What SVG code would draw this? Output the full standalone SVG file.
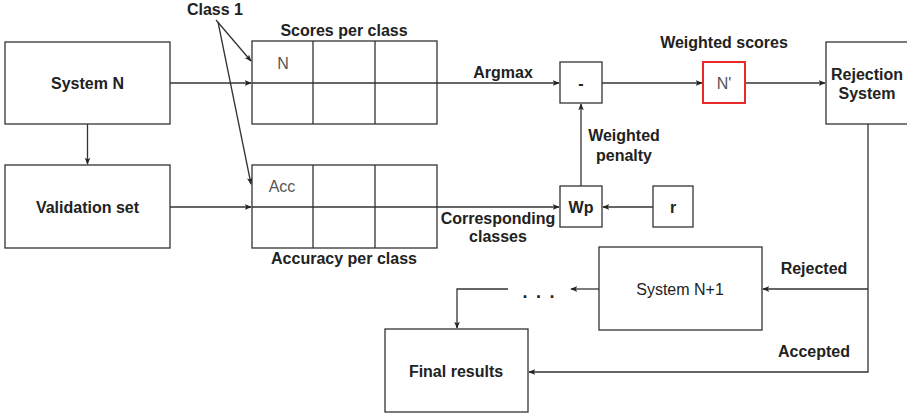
<svg xmlns="http://www.w3.org/2000/svg" width="907" height="415" viewBox="0 0 907 415">
<defs>
<marker id="ah" viewBox="0 0 10 10" refX="9" refY="5" markerWidth="7" markerHeight="7" orient="auto" markerUnits="userSpaceOnUse">
<path d="M0,1 L10,5 L0,9 L2.5,5 Z" fill="#222"/>
</marker>
<style>
.box{fill:#fff;stroke:#333;stroke-width:1.3}
.ln{fill:none;stroke:#333;stroke-width:1.3}
.t{font-family:"Liberation Sans",Arial,sans-serif;font-size:16px;font-weight:bold;fill:#222;text-anchor:middle}
.g{font-family:"Liberation Sans",Arial,sans-serif;font-size:16px;fill:#555;text-anchor:middle}
</style>
</defs>
<rect width="907" height="415" fill="#fff"/>
<g id="connectors">
<path class="ln" d="M87.5,124 V164" marker-end="url(#ah)"/>
<path class="ln" d="M170,83 H251" marker-end="url(#ah)"/>
<path class="ln" d="M437,83 H559" marker-end="url(#ah)"/>
<path class="ln" d="M170,207 H251" marker-end="url(#ah)"/>
<path class="ln" d="M437,207 H559" marker-end="url(#ah)"/>
<path class="ln" d="M653,207 H603" marker-end="url(#ah)"/>
<path class="ln" d="M581,186 V104" marker-end="url(#ah)"/>
<path class="ln" d="M602,83 H702" marker-end="url(#ah)"/>
<path class="ln" d="M745,83 H825" marker-end="url(#ah)"/>
<path class="ln" d="M216,20 L251,61" marker-end="url(#ah)"/>
<path class="ln" d="M218,22 L251,184" marker-end="url(#ah)"/>
<path class="ln" d="M868,124 V372 H529" marker-end="url(#ah)"/>
<path class="ln" d="M868,289 H763" marker-end="url(#ah)"/>
<path class="ln" d="M599,289 H571" marker-end="url(#ah)"/>
<path class="ln" d="M508,289 H457 V328" marker-end="url(#ah)"/>
</g>
<g id="system-n"><rect class="box" x="5" y="42" width="165" height="82"/><text class="t" x="87.5" y="89">System N</text></g>
<g id="validation-set"><rect class="box" x="5" y="165" width="165" height="83"/><text class="t" x="87.5" y="213">Validation set</text></g>
<g id="class1"><text class="t" x="215" y="15">Class 1</text></g>
<g id="scores">
<text class="t" x="344" y="36">Scores per class</text>
<rect class="box" x="252" y="41" width="185" height="83"/>
<path class="ln" d="M313,41 V124 M375,41 V124 M252,83 H437"/>
<text class="g" x="283" y="69">N</text>
</g>
<g id="accuracy">
<rect class="box" x="252" y="165" width="185" height="83"/>
<path class="ln" d="M313,165 V248 M375,165 V248 M252,207 H437"/>
<text class="g" x="282" y="192">Acc</text>
<text class="t" x="344" y="264">Accuracy per class</text>
</g>
<g id="argmax-label"><text class="t" x="503" y="78">Argmax</text></g>
<g id="corr-label"><text class="t" x="498" y="224">Corresponding</text><text class="t" x="498" y="242">classes</text></g>
<g id="minus"><rect class="box" x="560" y="62" width="42" height="41"/><text class="t" x="581" y="89">-</text></g>
<g id="wp"><rect class="box" x="560" y="186" width="42" height="41"/><text class="t" x="581" y="213">Wp</text></g>
<g id="penalty-label"><text class="t" x="624" y="141">Weighted</text><text class="t" x="624" y="161">penalty</text></g>
<g id="r"><rect class="box" x="653" y="186" width="40" height="41"/><text class="t" x="673" y="213">r</text></g>
<g id="nprime">
<text class="t" x="724" y="48">Weighted scores</text>
<rect x="703" y="62" width="42" height="41" fill="#fff" stroke="#e8282b" stroke-width="2"/>
<text class="g" x="724" y="89">N'</text>
</g>
<g id="rejection"><rect class="box" x="826" y="42" width="85" height="82"/><text class="t" x="867" y="80">Rejection</text><text class="t" x="867" y="99">System</text></g>
<g id="rejected-label"><text class="t" x="814" y="274">Rejected</text></g>
<g id="accepted-label"><text class="t" x="814" y="357">Accepted</text></g>
<g id="system-n1"><rect class="box" x="599" y="247" width="163" height="83"/><text class="t" x="680" y="295" style="font-weight:normal;fill:#222">System N+1</text></g>
<g id="dots"><text class="t" x="525 538.5 552" y="298" style="font-size:18px">...</text></g>
<g id="final"><rect class="box" x="385" y="329" width="143" height="83"/><text class="t" x="456" y="377">Final results</text></g>
</svg>
